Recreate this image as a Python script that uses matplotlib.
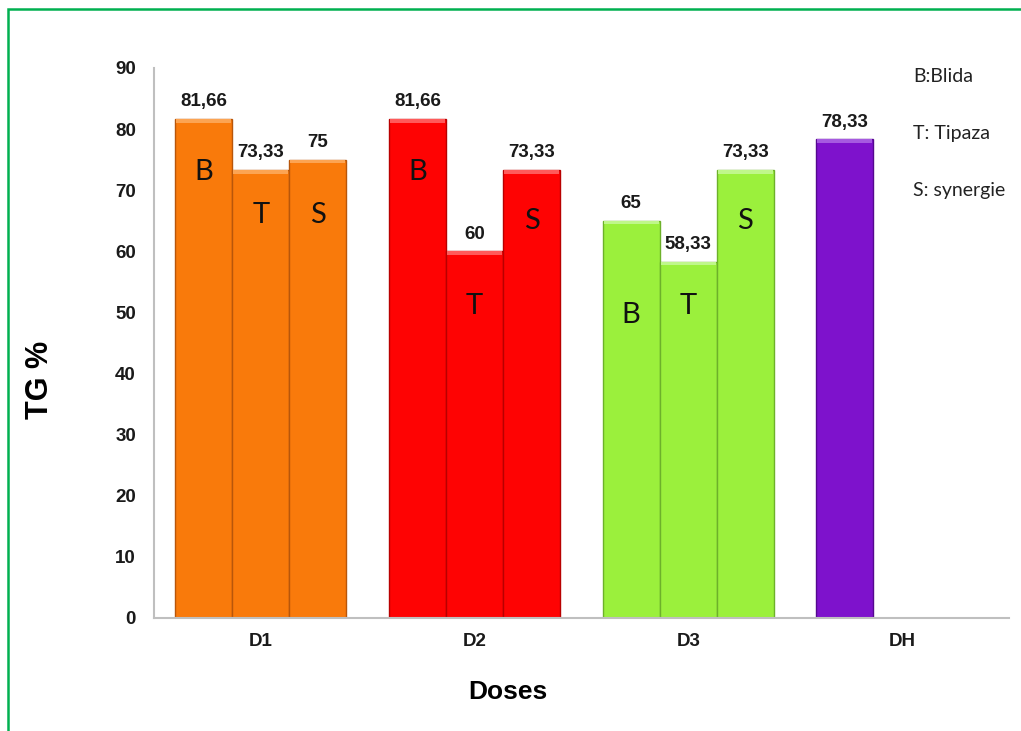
import matplotlib.pyplot as plt
from matplotlib.patches import Rectangle
import numpy as np

doses = ['D1', 'D2', 'D3', 'DH']
blida = [81.66, 81.66, 65, 78.33]
tipaza = [73.33, 60, 58.33, None]
synergie = [75, 73.33, 73.33, None]

colors = ['#F97A0B', '#FE0303', '#9BF03C', '#7E12CC']
edges = ['#B8560A', '#B80000', '#6DB12A', '#55088F']
tops = ['#FCA453', '#FF5A5A', '#BFF78A', '#A65AE0']

# where the B / T / S letters sit inside each bar (y, data units)
letter_y = {
    'B': [73, 73, 49.5, None],
    'T': [66, 51, 51, None],
    'S': [66, 65, 65, None],
}

fig = plt.figure(figsize=(10.21, 7.31), dpi=100)
ax = fig.add_axes([0.1508, 0.1546, 0.8372, 0.7524])

w = 0.267
x = np.arange(len(doses))
series = [('B', blida, -w), ('T', tipaza, 0), ('S', synergie, w)]

for letter, vals, off in series:
    for i, v in enumerate(vals):
        if v is None:
            continue
        xi = x[i] + off
        ax.bar(xi, v, width=w, color=colors[i], edgecolor=edges[i], linewidth=1.0, zorder=2)
        # light bevel along the top edge
        ax.bar(xi, 0.6, bottom=v - 0.6, width=w * 0.96, color=tops[i], linewidth=0, zorder=3)
        lbl = f'{v:g}'.replace('.', ',')
        ax.text(xi, v + 1.4, lbl, ha='center', va='bottom', fontsize=13.5, fontweight='bold',
                family='Liberation Sans', color='#1A1A1A')
        ly = letter_y[letter][i]
        if ly is not None and i < 3:
            ax.text(xi, ly, letter, ha='center', va='center', fontsize=21, family='Lato',
                    color='#111111', zorder=4)

ax.set_xlim(-0.5, 3.5)
ax.set_ylim(0, 90)
ax.set_yticks(range(0, 91, 10))
ax.set_xticks(x)
ax.set_xticklabels(doses)
ax.tick_params(length=0)
ax.tick_params(axis='y', pad=13)
ax.tick_params(axis='x', pad=11)
for lab in ax.get_xticklabels() + ax.get_yticklabels():
    lab.set_fontweight('bold')
    lab.set_fontsize(13.5)
    lab.set_family('Liberation Sans')
    lab.set_color('#1A1A1A')

for s in ['top', 'right']:
    ax.spines[s].set_visible(False)
for s in ['left', 'bottom']:
    ax.spines[s].set_color('#BFBFBF')
    ax.spines[s].set_linewidth(1.5)

ax.set_ylabel('TG %', fontsize=22, fontweight='bold', family='Liberation Sans', va='center')
ax.yaxis.set_label_coords(-0.133, 0.433)
ax.set_xlabel('Doses', fontsize=19, fontweight='bold', family='Liberation Sans', va='center')
ax.xaxis.set_label_coords(0.414, -0.1345)

legend_lines = ['B:Blida', 'T: Tipaza', 'S: synergie']
for k, t in enumerate(legend_lines):
    fig.text(0.894, 0.895 - k * 0.078, t, fontsize=14, family='Lato', color='#222222',
             ha='left', va='center')

# green frame around the figure
frame = Rectangle((8 / 1021, -0.05), 1.1, 1 - 9 / 731 + 0.05, transform=fig.transFigure,
                  fill=False, edgecolor='#00B050', linewidth=1.8, clip_on=False)
fig.patches.append(frame)

fig.savefig('out.png', dpi=100)
